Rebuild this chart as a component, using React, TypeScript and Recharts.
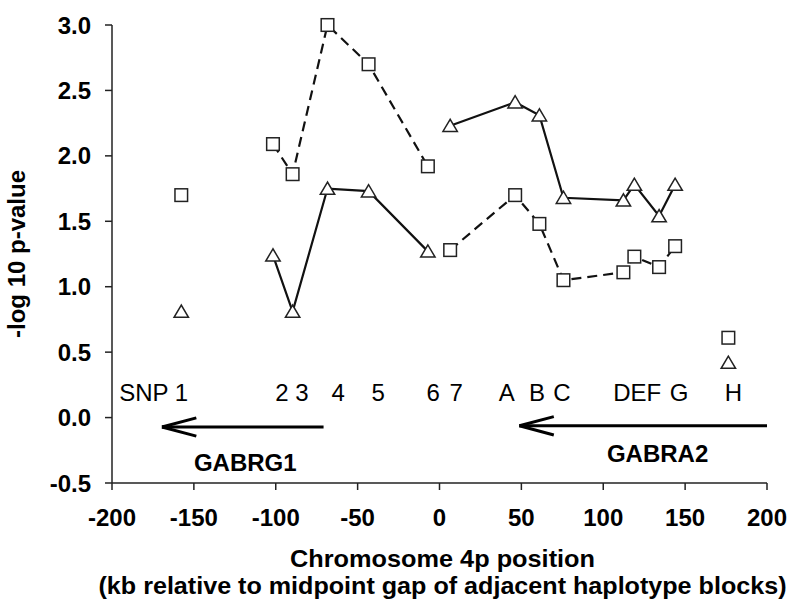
import React from 'react';
import { ScatterChart, Scatter, XAxis, YAxis, ReferenceLine } from 'recharts';

// SNP positions (kb) and -log10 p-values
const positions = [-157.7, -101.7, -89.7, -68.4, -43.3, -7.1, 6.5, 46.2, 61.0, 75.7, 112.3, 119.0, 134.1, 143.9, 176.4];
const squareValues = [1.70, 2.09, 1.86, 3.00, 2.70, 1.92, 1.28, 1.70, 1.48, 1.05, 1.11, 1.23, 1.15, 1.31, 0.61];
const triangleValues = [0.81, 1.24, 0.81, 1.75, 1.73, 1.27, 2.23, 2.41, 2.31, 1.68, 1.66, 1.78, 1.54, 1.78, 0.42];
// connected groups (first index, last index)
const segments: [number, number][] = [[0, 0], [1, 5], [6, 13], [14, 14]];

const snpLabels = ['SNP 1', '2', '3', '4', '5', '6', '7', 'A', 'B', 'C', 'DEF', 'G', 'H'];
const snpLabelPositions = [-174.5, -96.2, -84.0, -61.8, -37.4, -3.8, 10.2, 41.1, 59.5, 74.7, 120.7, 146.3, 179.5];
const SNP_LABEL_Y = 0.19;

const geneNames = ['GABRG1', 'GABRA2'];
const geneStarts = [-70.8, 200];
const geneEnds = [-169.5, 48.8];
const geneArrowY = [-0.072, -0.063];
const geneLabelX = [-118.6, 133.2];
const geneLabelY = [-0.346, -0.272];

const xTicks = [-200, -150, -100, -50, 0, 50, 100, 150, 200];
const yTicks = [-0.5, 0, 0.5, 1.0, 1.5, 2.0, 2.5, 3.0];

const xTitleLines = ['Chromosome 4p position', '(kb relative to midpoint gap of adjacent haplotype blocks)'];
const yTitle = '-log 10 p-value';

const FONT = "'Liberation Sans', Arial, Helvetica, sans-serif";

const seg = (vals: number[], s: [number, number]) =>
  positions.slice(s[0], s[1] + 1).map((x, i) => ({ x, y: vals[s[0] + i] }));

const SquareShape = (p: any) => (
  <rect x={p.cx - 6.3} y={p.cy - 6.3} width={12.6} height={12.6} fill="#fff" stroke="#222" strokeWidth={1.5} />
);
const TriangleShape = (p: any) => (
  <polygon
    points={`${p.cx},${p.cy - 6.5} ${p.cx - 7.2},${p.cy + 5.7} ${p.cx + 7.2},${p.cy + 5.7}`}
    fill="#fff"
    stroke="#222"
    strokeWidth={1.5}
  />
);
const SnpText = (p: any) => (
  <text x={p.cx} y={p.cy + 8.5} textAnchor="middle" fontFamily={FONT} fontSize={24} fill="#000">
    {p.payload.label}
  </text>
);
const GeneText = (p: any) => (
  <text x={p.cx} y={p.cy + 8.5} textAnchor="middle" fontFamily={FONT} fontSize={24} fontWeight="bold" fill="#000">
    {p.payload.label}
  </text>
);

const snpLabelData = snpLabels.map((label, i) => ({ x: snpLabelPositions[i], y: SNP_LABEL_Y, label }));
const geneLabelData = geneNames.map((label, i) => ({ x: geneLabelX[i], y: geneLabelY[i], label }));

const XTitle = (props: any) => {
  const vb = props.viewBox || { x: 112, y: 483, width: 655 };
  const cx = vb.x + vb.width / 2 + 3;
  const common = { textAnchor: 'middle' as const, fontFamily: FONT, fontSize: 24, fontWeight: 'bold', fill: '#000' };
  return (
    <g>
      <text x={cx} y={vb.y + 84} {...common} textLength={305} lengthAdjust="spacingAndGlyphs">
        {xTitleLines[0]}
      </text>
      <text x={cx} y={vb.y + 111} {...common} textLength={688} lengthAdjust="spacingAndGlyphs">
        {xTitleLines[1]}
      </text>
    </g>
  );
};

const YTitle = (props: any) => {
  const vb = props.viewBox || { x: 0, y: 25, width: 112, height: 458 };
  const x = vb.x + 25;
  const y = vb.y + vb.height / 2;
  return (
    <text
      x={x}
      y={y}
      transform={`rotate(-90, ${x}, ${y})`}
      textAnchor="middle"
      fontFamily={FONT}
      fontSize={24}
      fontWeight="bold"
      fill="#000"
    >
      {yTitle}
    </text>
  );
};

export default function App() {
  const tickStyle = { fill: '#000', fontSize: 24, fontWeight: 'bold', fontFamily: FONT };
  return (
    <div style={{ position: 'absolute', left: 0, top: 0, width: 800, height: 614, background: '#fff' }}>
      <ScatterChart width={800} height={614} margin={{ top: 25, right: 33, bottom: 0, left: 0 }}>
        <XAxis
          dataKey="x"
          type="number"
          domain={[-200, 200]}
          ticks={xTicks}
          height={131}
          tickSize={7}
          tickMargin={19}
          tick={tickStyle}
          axisLine={{ stroke: '#222', strokeWidth: 1.5 }}
          tickLine={{ stroke: '#222', strokeWidth: 1.5 }}
          label={{ content: XTitle }}
        />
        <YAxis
          dataKey="y"
          type="number"
          domain={[-0.5, 3]}
          ticks={yTicks}
          width={112}
          tickSize={7}
          tickMargin={14}
          tick={tickStyle}
          tickFormatter={(v: number) => v.toFixed(1)}
          axisLine={{ stroke: '#222', strokeWidth: 1.5 }}
          tickLine={{ stroke: '#222', strokeWidth: 1.5 }}
          label={{ content: YTitle }}
        />
        {geneNames.map((g, i) => {
          const dir = Math.sign(geneStarts[i] - geneEnds[i]);
          const headX = geneEnds[i] + dir * 21;
          return (
            <React.Fragment key={g}>
              <ReferenceLine
                segment={[{ x: geneStarts[i], y: geneArrowY[i] }, { x: geneEnds[i], y: geneArrowY[i] }]}
                stroke="#000"
                strokeWidth={3}
                ifOverflow="visible"
              />
              <ReferenceLine
                segment={[{ x: geneEnds[i], y: geneArrowY[i] }, { x: headX, y: geneArrowY[i] + 0.07 }]}
                stroke="#000"
                strokeWidth={3}
                ifOverflow="visible"
              />
              <ReferenceLine
                segment={[{ x: geneEnds[i], y: geneArrowY[i] }, { x: headX, y: geneArrowY[i] - 0.07 }]}
                stroke="#000"
                strokeWidth={3}
                ifOverflow="visible"
              />
            </React.Fragment>
          );
        })}
        {segments.map((s, i) => (
          <Scatter
            key={`tri-${i}`}
            data={seg(triangleValues, s)}
            shape={TriangleShape}
            line={s[1] > s[0] ? { stroke: '#111', strokeWidth: 2.2 } : false}
            fill="#fff"
            stroke="#111"
            isAnimationActive={false}
          />
        ))}
        {segments.map((s, i) => (
          <Scatter
            key={`sq-${i}`}
            data={seg(squareValues, s)}
            shape={SquareShape}
            line={s[1] > s[0] ? { stroke: '#111', strokeWidth: 2.2, strokeDasharray: '10 6' } : false}
            fill="#fff"
            stroke="#111"
            isAnimationActive={false}
          />
        ))}
        <Scatter data={snpLabelData} shape={SnpText} isAnimationActive={false} />
        <Scatter data={geneLabelData} shape={GeneText} isAnimationActive={false} />
      </ScatterChart>
    </div>
  );
}
